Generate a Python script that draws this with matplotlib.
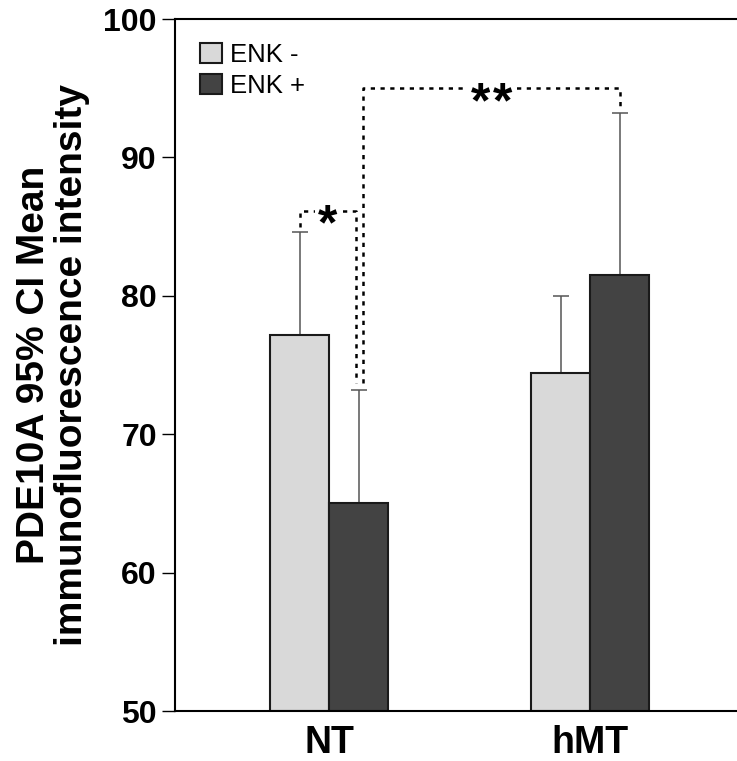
import numpy as np
import matplotlib.pyplot as plt

plt.rcParams['font.family'] = ['Liberation Sans', 'DejaVu Sans']

# data
groups = ['NT', 'hMT']
series = ['ENK -', 'ENK +']
means = {'ENK -': [77.2, 74.4], 'ENK +': [65.0, 81.5]}
ci_upper = {'ENK -': [84.6, 80.0], 'ENK +': [73.2, 93.2]}
colors = {'ENK -': '#d9d9d9', 'ENK +': '#434343'}

x = np.arange(len(groups))
width = 0.226

fig = plt.figure(figsize=(7.37, 7.61), dpi=100)
ax = fig.add_axes([0.2375, 0.0657, 0.7625, 0.9093])

xpos = {}
for i, s in enumerate(series):
    xs = x + (i - 0.5) * width
    xpos[s] = xs
    m = np.array(means[s])
    up = np.array(ci_upper[s]) - m
    ax.bar(xs, m - 50, width, bottom=50, color=colors[s], edgecolor='#1a1a1a',
           linewidth=1.5, label=s, zorder=2)
    ax.errorbar(xs, m, yerr=[np.zeros_like(up), up], fmt='none', ecolor='#555555',
                elinewidth=1.1, capsize=6, capthick=1.1, zorder=1)

ax.set_ylim(50, 100)
ax.set_xlim(-0.59, 1.563)
ax.set_yticks([50, 60, 70, 80, 90, 100])
ax.set_xticks(x)
ax.set_xticklabels(groups, fontsize=27, fontweight='bold')
ax.tick_params(axis='x', length=0, pad=10)
ax.tick_params(axis='y', length=9.5, width=1.0, labelsize=23, pad=3.5)
for lab in ax.get_yticklabels():
    lab.set_fontweight('bold')
ax.set_ylabel('PDE10A 95% CI Mean\nimmunofluorescence intensity',
              fontsize=28, fontweight='bold', labelpad=10, linespacing=1.05)

ax.spines['right'].set_visible(False)
for sp in ['left', 'bottom', 'top']:
    ax.spines[sp].set_linewidth(1.5)

# significance brackets
dots = dict(color='black', linewidth=1.8, linestyle=(0, (1.7, 2.2)), zorder=3)
star_fs = 36
star_kw = dict(fontsize=star_fs, fontweight='bold', ha='center', va='baseline',
               textcoords='offset points', zorder=4,
               bbox=dict(facecolor='white', edgecolor='none', pad=2))

nt_minus = xpos['ENK -'][0]
nt_plus = xpos['ENK +'][0]
hmt_plus = xpos['ENK +'][1]

xa, xb = nt_minus, nt_plus - 0.01
y1 = ci_upper['ENK -'][0] + 1.55
ax.plot([xa, xa, xb, xb],
        [ci_upper['ENK -'][0] + 0.4, y1, y1, ci_upper['ENK +'][0] + 0.5], **dots)
ax.annotate('*', ((xa + xb) / 2, y1), xytext=(0, -0.58 * star_fs), **star_kw)

xc, xd = nt_plus + 0.017, hmt_plus
y2 = ci_upper['ENK +'][1] + 1.8
ax.plot([xc, xc, xd, xd],
        [ci_upper['ENK +'][0] + 0.5, y2, y2, ci_upper['ENK +'][1] + 0.5], **dots)
for dx in (-8, 8):
    ax.annotate('*', ((xc + xd) / 2, y2), xytext=(dx, -0.58 * star_fs), **star_kw)

ax.legend(loc='upper left', bbox_to_anchor=(0.044, 0.966), frameon=False,
          fontsize=18.5, handlelength=0.86, handleheight=0.82, handletextpad=0.3,
          labelspacing=0.28, borderaxespad=0, borderpad=0)

fig.savefig('out.png', dpi=100)
